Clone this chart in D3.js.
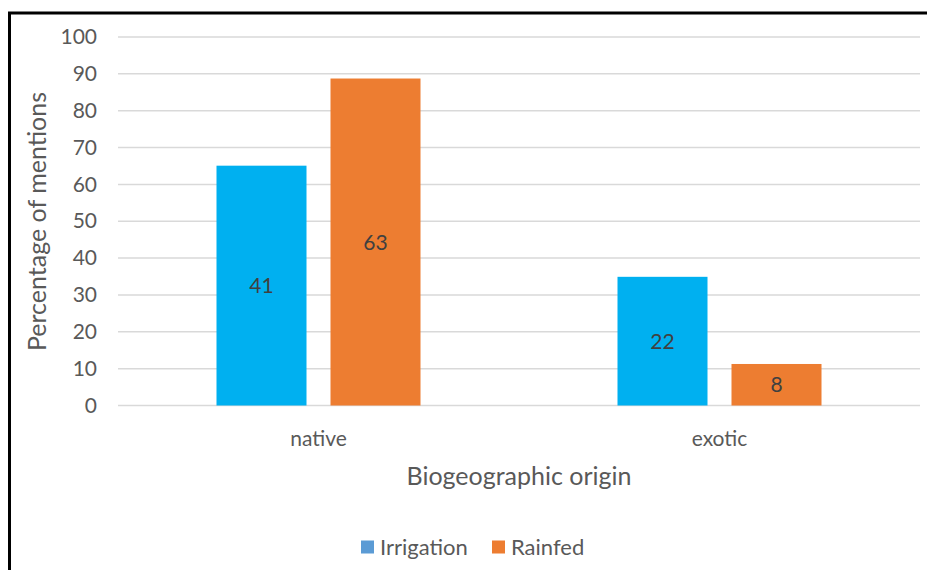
<!DOCTYPE html>
<html>
<head>
<meta charset="utf-8">
<script src="https://cdn.jsdelivr.net/npm/d3@7"></script>
<style>
  html, body { margin: 0; padding: 0; background: #fff; }
  svg { display: block; font-family: Lato, "Open Sans", sans-serif; }
</style>
</head>
<body>
<svg id="chart" width="927" height="570"></svg>
<script>
// Biogeographic origin of mentioned species, by farming system
const categories = ["native", "exotic"];
const seriesNames = ["Irrigation", "Rainfed"];
// number of mentions per category (shown inside each bar)
const irrigationCounts = [41, 22];
const rainfedCounts = [63, 8];
// total mentions per system, used to turn counts into percentages
const seriesTotals = [63, 71];
const yTicks = [0, 10, 20, 30, 40, 50, 60, 70, 80, 90, 100];

const barColors = ["#00B0F0", "#ED7D31"];
const legendColors = ["#5B9BD5", "#ED7D31"];
const FONT = "Lato, 'Open Sans', sans-serif";

const counts = [irrigationCounts, rainfedCounts];
const rows = categories.map((c, i) => ({
  category: c,
  values: seriesNames.map((s, j) => ({
    series: s,
    idx: j,
    count: counts[j][i],
    pct: counts[j][i] / seriesTotals[j] * 100
  }))
}));

const svg = d3.select("#chart");
const W = 927, H = 570;

// frame (left and top edges visible)
svg.append("line").attr("x1", 9.5).attr("x2", 9.5).attr("y1", 12).attr("y2", H)
  .attr("stroke", "#000").attr("stroke-width", 3);
svg.append("line").attr("x1", 8).attr("x2", W).attr("y1", 13).attr("y2", 13)
  .attr("stroke", "#000").attr("stroke-width", 3);

const plot = { left: 118, right: 920, top: 37, bottom: 405.5 };

const x0 = d3.scaleBand().domain(categories).range([plot.left, plot.right]).padding(0);
const y = d3.scaleLinear().domain([0, 100]).range([plot.bottom, plot.top]);

// gridlines
svg.append("g").selectAll("line").data(yTicks).join("line")
  .attr("x1", plot.left).attr("x2", plot.right)
  .attr("y1", d => y(d)).attr("y2", d => y(d))
  .attr("stroke", "#D9D9D9").attr("stroke-width", 1.5);

// y axis labels
const yAxis = d3.axisLeft(y).tickValues(yTicks).tickSize(0).tickPadding(0);
const gy = svg.append("g").attr("transform", `translate(97,0)`).call(yAxis);
gy.select(".domain").remove();
gy.selectAll("text").attr("fill", "#595959").style("font-size", "21px")
  .style("font-family", FONT);

// bars
const barW = 90, gapBetween = 24;
const groupW = barW * 2 + gapBetween;

const groups = svg.append("g").selectAll("g").data(rows).join("g")
  .attr("transform", d => `translate(${x0(d.category) + x0.bandwidth() / 2 - groupW / 2},0)`);

groups.selectAll("rect").data(d => d.values).join("rect")
  .attr("x", d => d.idx * (barW + gapBetween))
  .attr("width", barW)
  .attr("y", d => y(d.pct))
  .attr("height", d => y(0) - y(d.pct))
  .attr("fill", d => barColors[d.idx]);

groups.selectAll("text").data(d => d.values).join("text")
  .attr("x", d => d.idx * (barW + gapBetween) + barW / 2)
  .attr("y", d => (y(d.pct) + y(0)) / 2)
  .attr("dy", "0.36em")
  .attr("text-anchor", "middle")
  .attr("fill", "#404040")
  .style("font-size", "21px")
  .text(d => d.count);

// category axis labels
const xAxis = d3.axisBottom(x0).tickSize(0).tickPadding(0);
const gx = svg.append("g").attr("transform", `translate(0,438)`).call(xAxis);
gx.select(".domain").remove();
gx.selectAll("text").attr("y", 0).attr("dy", "0.36em")
  .attr("fill", "#595959").style("font-size", "21px")
  .style("font-family", FONT);

// axis titles
svg.append("text")
  .attr("x", (plot.left + plot.right) / 2).attr("y", 476).attr("dy", "0.36em")
  .attr("text-anchor", "middle").attr("fill", "#595959")
  .style("font-size", "25px").text("Biogeographic origin");

svg.append("text")
  .attr("transform", `translate(37,${(93 + 350) / 2}) rotate(-90)`)
  .attr("dy", "0.36em")
  .attr("text-anchor", "middle").attr("fill", "#595959")
  .style("font-size", "25px").text("Percentage of mentions");

// legend
const legendX = [361, 492];
const legend = svg.append("g").selectAll("g").data(seriesNames).join("g")
  .attr("transform", (d, i) => `translate(${legendX[i]},547)`);
legend.append("rect").attr("y", -6.5).attr("width", 13).attr("height", 13)
  .attr("fill", (d, i) => legendColors[i]);
legend.append("text").attr("x", 19).attr("dy", "0.36em")
  .attr("fill", "#595959").style("font-size", "22px").text(d => d);
</script>
</body>
</html>
